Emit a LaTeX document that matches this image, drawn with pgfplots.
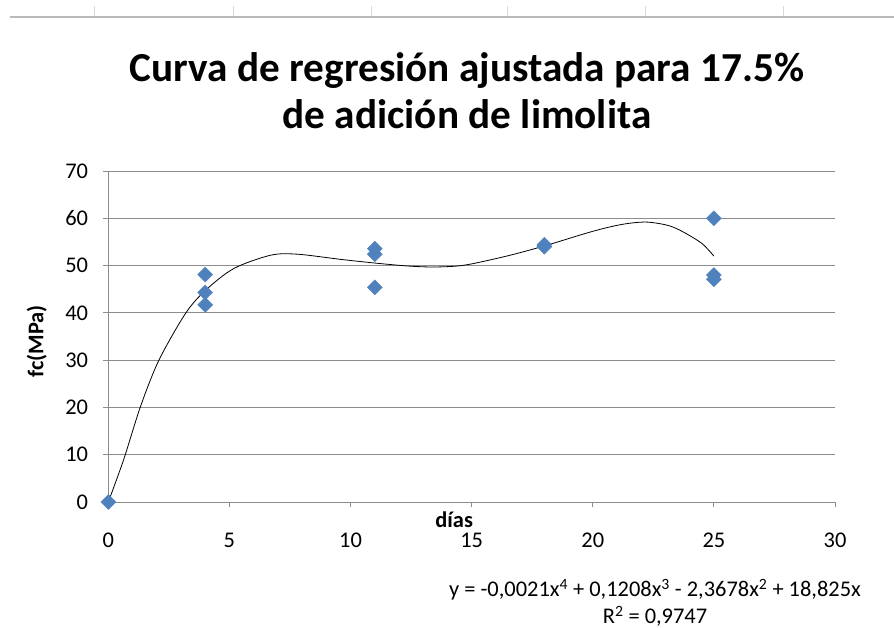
\documentclass[border=0pt]{standalone}
\usepackage{pgfplots}
\pgfplotsset{compat=1.18}
\usepackage{fontspec}
\setmainfont{Carlito}
\definecolor{exblue}{HTML}{4F81BD}
\definecolor{gridgray}{HTML}{8C8C8C}
\begin{document}
\begin{tikzpicture}
\useasboundingbox (0bp,0bp) rectangle (894bp,628bp);
\draw[gray!55, line width=1.3bp] (10bp,611bp) -- (894bp,611bp);
\foreach \xx in {94,233,371,507,645,783} \draw[gray!30] (\xx bp,612bp) -- (\xx bp,622bp);
\node[font=\bfseries\fontsize{41.4}{47}\selectfont, align=center] at (467bp,537bp) {Curva de regresión ajustada para 17.5\%\\de adición de limolita};
\begin{axis}[
  at={(108.3bp,126bp)}, anchor=south west,
  scale only axis, width=726.7bp, height=331bp,
  xmin=0, xmax=30, ymin=0, ymax=70,
  xtick={0,5,...,30}, ytick={0,10,...,70},
  axis x line*=bottom, axis y line*=left,
  axis line style={gridgray, line width=0.9bp, -},
  tick align=outside, major tick length=5bp,
  tick style={gridgray, line width=0.9bp},
  ymajorgrids, grid style={gridgray, line width=0.9bp},
  /pgf/number format/assume math mode=true,
  ticklabel style={font=\fontsize{22.5}{26}\selectfont, inner sep=0pt},
  xticklabel style={anchor=center, yshift=-33bp},
  yticklabel style={anchor=east, xshift=-15bp},
  xlabel={días}, ylabel={fc(MPa)},
  label style={font=\bfseries\fontsize{22.5}{26}\selectfont, inner sep=0pt},
  xlabel style={at={(axis description cs:0.476,-0.054)}, anchor=center},
  ylabel style={at={(axis description cs:-0.0985,0.486)}, anchor=center},
  clip=false,
]
\addplot[only marks, mark=square*, mark size=5.3bp, mark options={rotate=45, fill=exblue, draw=exblue}, color=exblue]
  coordinates {(0,0) (4,48.1) (4,44.3) (4,41.7) (11,53.6) (11,52.4) (11,45.4) (18,54.0) (18,54.4) (25,60.0) (25,48.0) (25,47.1)};
\addplot[black, line width=0.8bp, smooth, tension=0.5]
  coordinates {(0,0) (0.63,8.9) (1.33,20.2) (2.09,30.0) (3.19,39.9) (4.02,44.8) (5.19,49.4) (6.71,52.2) (7.82,52.4) (9.61,51.3) (11.07,50.5) (12.38,49.9) (13.4,49.7) (14.4,49.9) (15.14,50.5) (16.6,52.2) (18.1,54.3) (19.97,57.2) (21.2,58.7) (22.2,59.2) (23.1,58.5) (23.7,57.2) (24.5,54.7) (25.0,52.0)};
\end{axis}
\node[font=\fontsize{22.5}{27}\selectfont, align=center] at (655bp,25bp) {y = -0,0021x\textsuperscript{4} + 0,1208x\textsuperscript{3} - 2,3678x\textsuperscript{2} + 18,825x\\R\textsuperscript{2} = 0,9747};
\end{tikzpicture}
\end{document}
